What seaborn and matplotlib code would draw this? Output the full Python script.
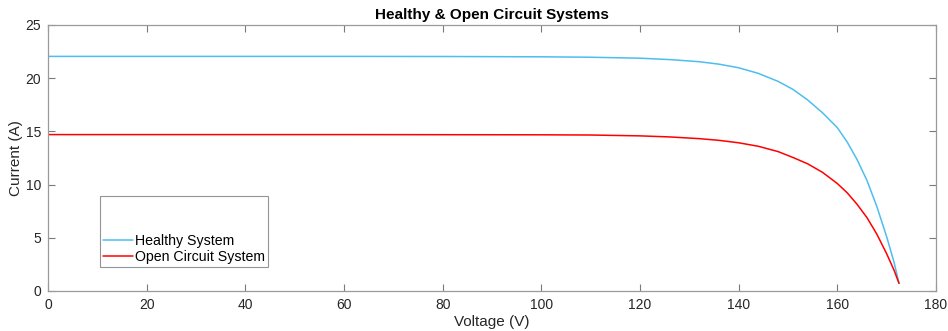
import numpy as np
import pandas as pd
import matplotlib
matplotlib.use("Agg")
import matplotlib.pyplot as plt
import seaborn as sns

# Valeurs (tension V, courant A)
healthy_v = [0, 20, 40, 60, 80, 100, 110, 120, 126, 132, 136, 140, 144, 148, 151, 154,
             157, 160, 162, 164, 166, 168, 170, 171.5, 172.5]
healthy_i = [22.05, 22.05, 22.05, 22.05, 22.04, 22.01, 21.97, 21.88, 21.75, 21.55, 21.32,
             20.98, 20.45, 19.7, 18.95, 17.95, 16.75, 15.35, 14.0, 12.35, 10.4, 7.95,
             5.1, 2.7, 0.72]

open_v = [0, 20, 40, 60, 80, 100, 110, 120, 126, 132, 136, 140, 144, 148, 151, 154,
          157, 160, 162, 164, 166, 168, 170, 171.5, 172.5]
open_i = [14.7, 14.7, 14.7, 14.7, 14.69, 14.68, 14.66, 14.58, 14.48, 14.32, 14.16, 13.93,
          13.6, 13.1, 12.55, 11.95, 11.15, 10.1, 9.23, 8.15, 6.9, 5.35, 3.5, 1.95, 0.72]

series_names = ["Healthy System", "Open Circuit System"]
series_colors = ["#4DBEEE", "#FF0000"]

df = pd.concat([
    pd.DataFrame({"Voltage": healthy_v, "Current": healthy_i, "Series": series_names[0]}),
    pd.DataFrame({"Voltage": open_v, "Current": open_i, "Series": series_names[1]}),
], ignore_index=True)

sns.set_style("ticks")
plt.rcParams["font.family"] = ["Liberation Sans", "DejaVu Sans"]

fig = plt.figure(figsize=(9.48, 3.31), dpi=100)
ax = fig.add_axes([48 / 948, 40 / 331, 888 / 948, 266 / 331])

sns.lineplot(data=df, x="Voltage", y="Current", hue="Series",
             palette=dict(zip(series_names, series_colors)), linewidth=1.1,
             sort=False, estimator=None, ax=ax)

ax.set_xlim(0, 180)
ax.set_ylim(0, 25)
ax.set_xticks(np.arange(0, 181, 20))
ax.set_yticks(np.arange(0, 26, 5))

grey = "#262626"
for s in ax.spines.values():
    s.set_visible(True)
    s.set_color("#9a9a9a")
    s.set_linewidth(0.9)
ax.tick_params(direction="in", length=5, width=0.8, color="#7a7a7a",
               labelcolor=grey, labelsize=10, top=True, right=True, pad=5)

ax.set_title("Healthy & Open Circuit Systems", fontsize=11, fontweight="bold",
             color="black", pad=4)
ax.set_xlabel("Voltage (V)", fontsize=11, color=grey, labelpad=2)
ax.set_ylabel("Current (A)", fontsize=11, color=grey, labelpad=2)

leg = ax.legend(loc="upper left", bbox_to_anchor=(52 / 888, (291 - 196) / 266),
                title="\n\n", title_fontsize=8, fontsize=10.2, frameon=True, fancybox=False,
                handlelength=2.1, handletextpad=0.15, borderpad=0.2, labelspacing=0.15,
                borderaxespad=0)
leg.get_frame().set_edgecolor("#7a7a7a")
leg.get_frame().set_linewidth(0.8)
for t in leg.get_texts():
    t.set_color("black")

fig.savefig("out.png", dpi=100)
